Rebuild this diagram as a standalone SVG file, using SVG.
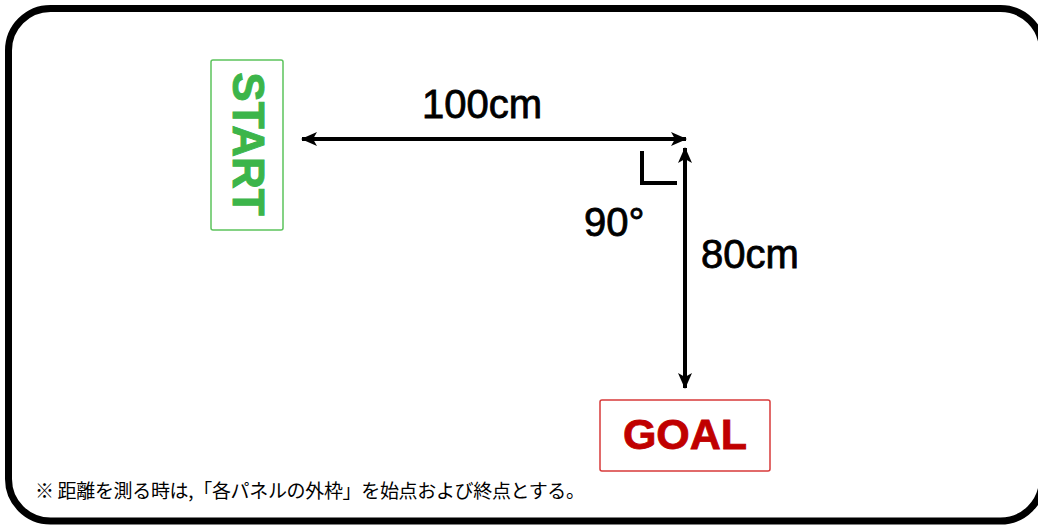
<svg xmlns="http://www.w3.org/2000/svg" width="1038" height="525" viewBox="0 0 1038 525">
<style>
.lbl{font-family:"Liberation Sans",Arial,sans-serif;font-size:40px;fill:#000;stroke:#000;stroke-width:0.8}
.conn{stroke:#000;stroke-width:4;fill:none}
.note{font-family:"Noto Sans CJK JP",sans-serif;font-size:19px;fill:#000}
</style>
<defs>
<marker id="ah" viewBox="0 0 16 14" refX="15" refY="7" markerWidth="16" markerHeight="14" markerUnits="userSpaceOnUse" orient="auto-start-reverse">
<path d="M0,0 L16,7 L0,14 L4,7 Z" fill="#000"/>
</marker>
</defs>
<rect x="8.5" y="8.5" width="1034" height="512.5" rx="42" ry="42" fill="#fff" stroke="#000" stroke-width="7"/>
<g id="start">
<rect x="211" y="60" width="72" height="170" rx="2" fill="#fff" stroke="#5cc45c" stroke-width="1.5"/>
<text transform="translate(233,144) rotate(90)" text-anchor="middle" font-family="Liberation Sans,Arial,sans-serif" font-weight="bold" font-size="44" fill="#3cb54a" stroke="#3cb54a" stroke-width="1">START</text>
</g>
<g id="goal">
<rect x="600" y="400" width="170" height="71" rx="2" fill="#fff" stroke="#d83a3a" stroke-width="1.5"/>
<text x="685" y="449" text-anchor="middle" font-family="Liberation Sans,Arial,sans-serif" font-weight="bold" font-size="43" fill="#c00000" stroke="#c00000" stroke-width="0.8">GOAL</text>
</g>
<g id="connectors">
<line class="conn" x1="302" y1="139" x2="686" y2="139" marker-start="url(#ah)" marker-end="url(#ah)"/>
<line class="conn" x1="685" y1="148" x2="685" y2="388" marker-start="url(#ah)" marker-end="url(#ah)"/>
<path class="conn" d="M642,151 V183 H677" stroke-width="5"/>
</g>
<g id="labels">
<text class="lbl" x="482" y="118" text-anchor="middle">100cm</text>
<text class="lbl" x="584" y="236">90°</text>
<text class="lbl" x="701" y="268">80cm</text>
<text class="note" x="35" y="498" textLength="550" lengthAdjust="spacing">※ 距離を測る時は,「各パネルの外枠」を始点および終点とする。</text>
</g>
</svg>
